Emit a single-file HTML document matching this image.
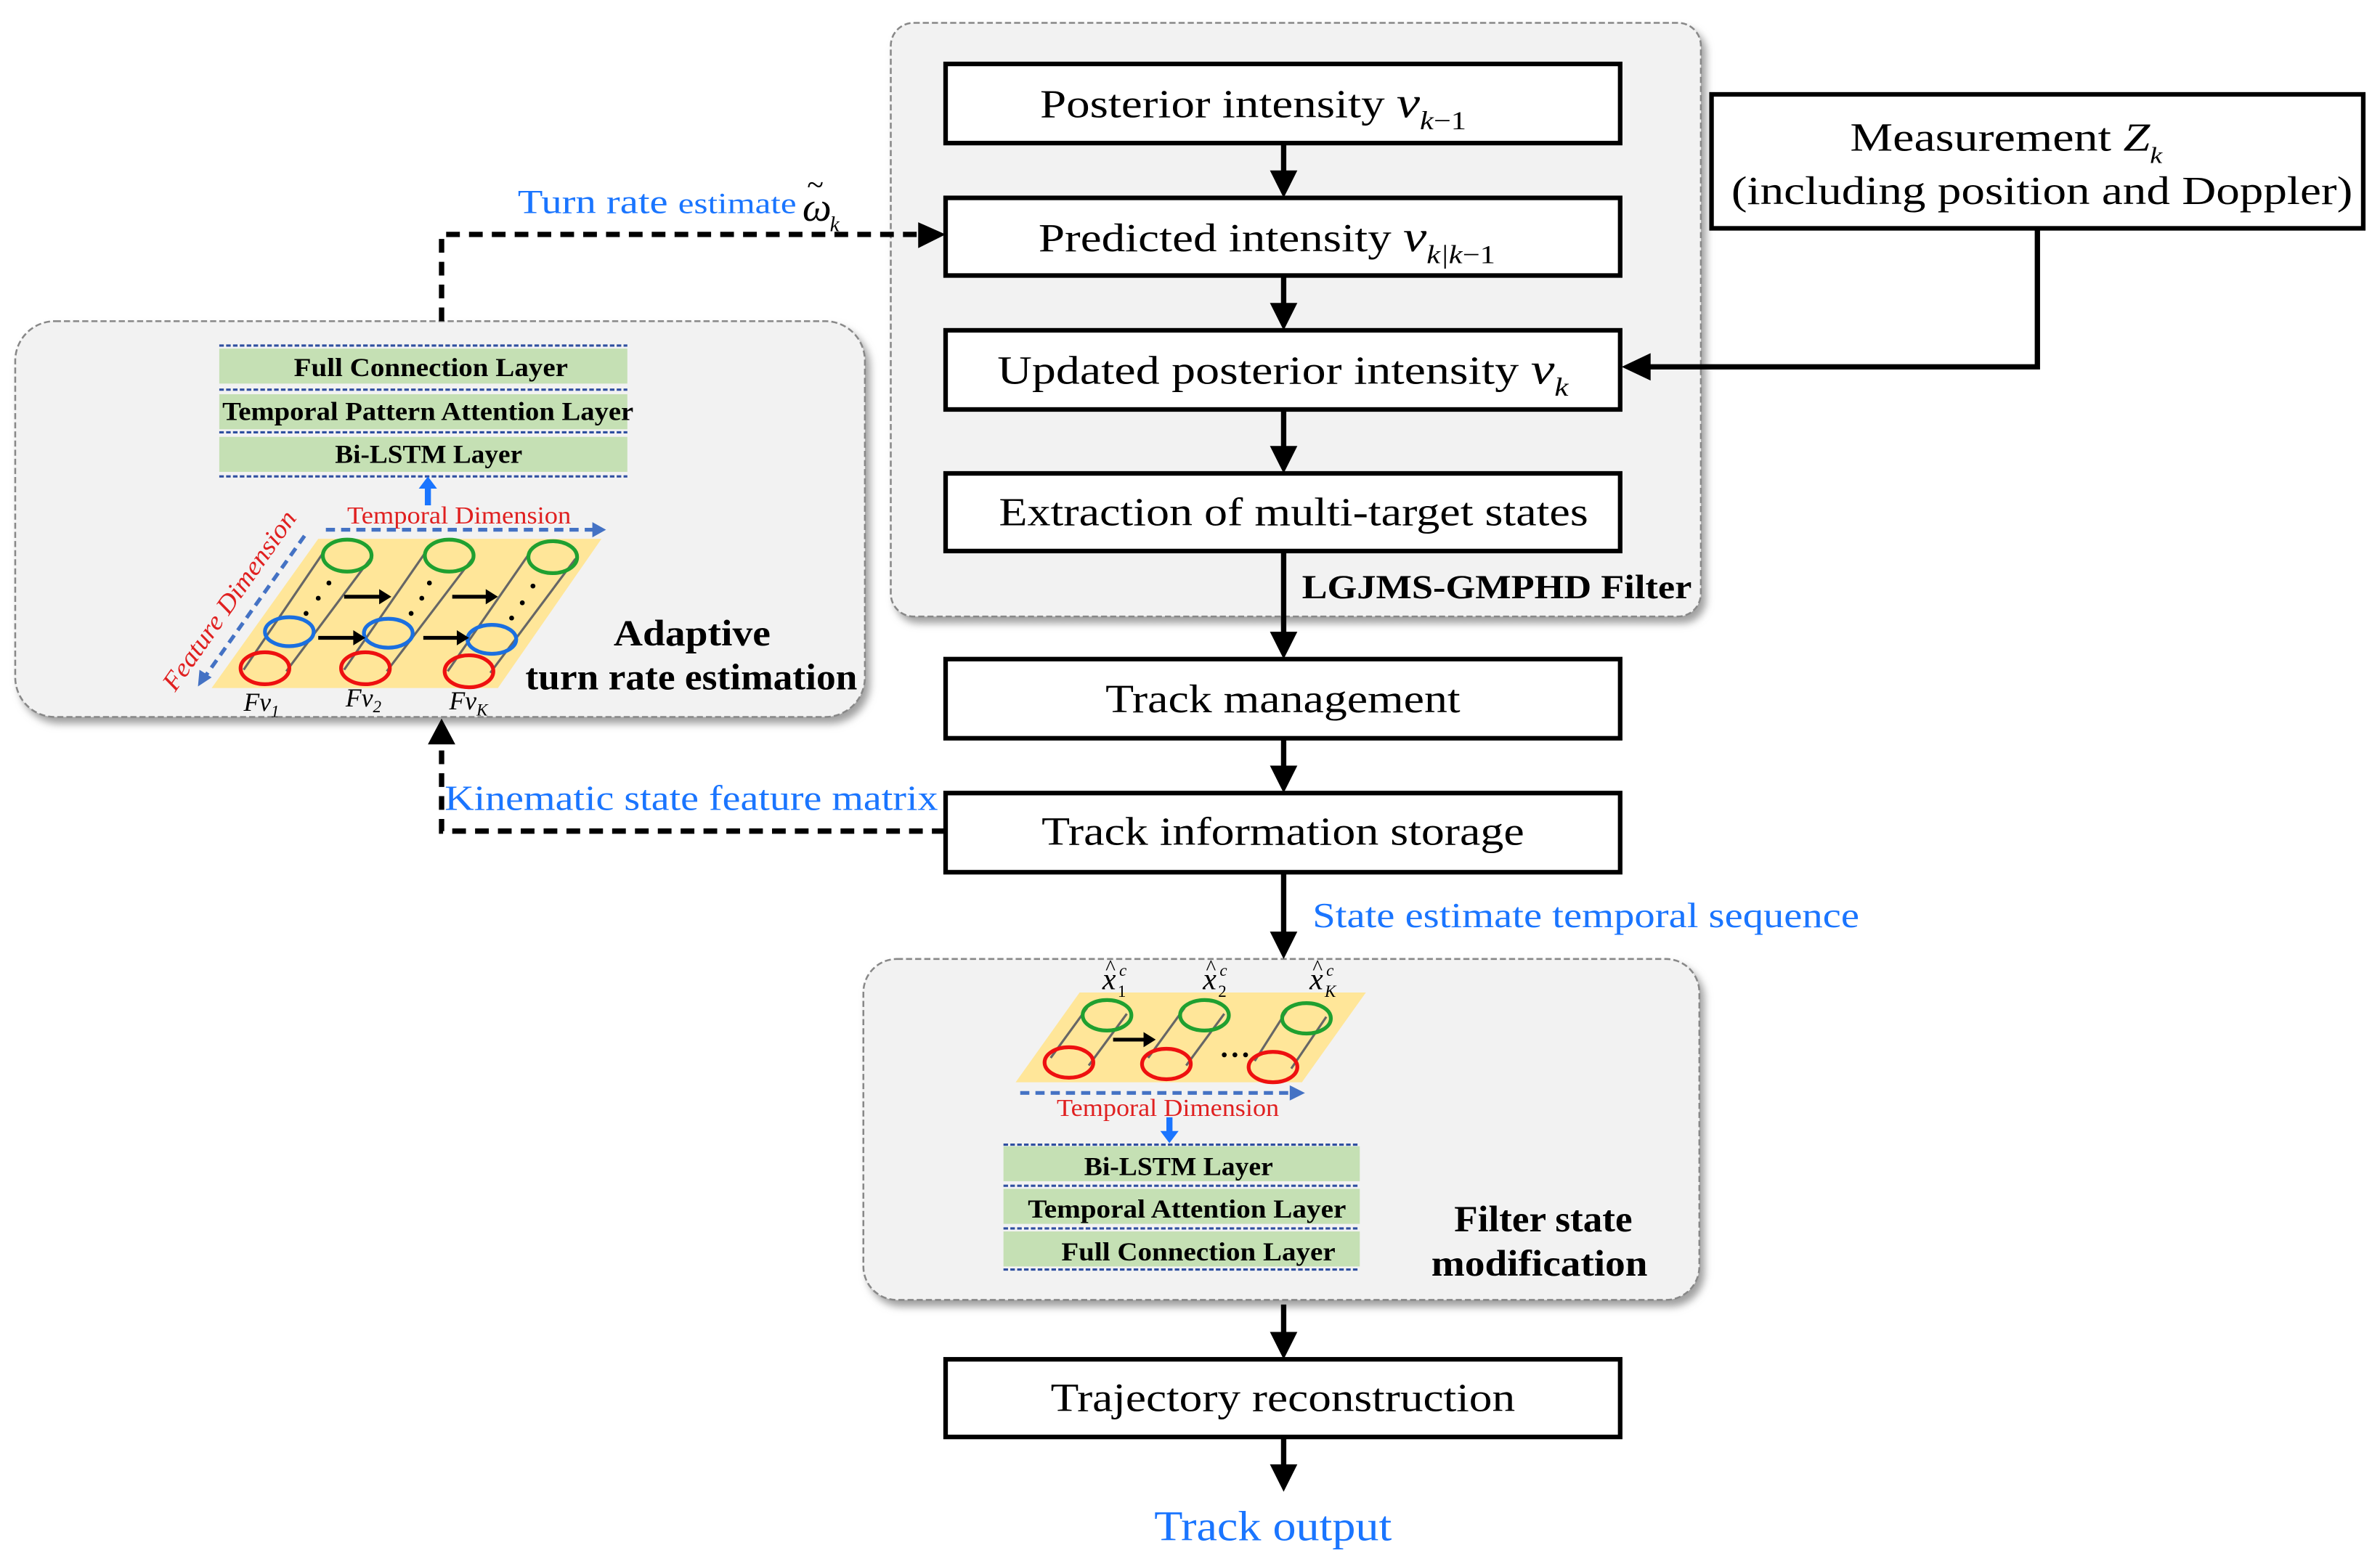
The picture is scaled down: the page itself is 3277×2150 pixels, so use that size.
<!DOCTYPE html>
<html><head><meta charset="utf-8"><style>
html,body{margin:0;padding:0;background:#fff;}
svg{display:block;}
text{font-family:"Liberation Serif",serif;}
</style></head><body>
<svg width="3277" height="2150" viewBox="0 0 1563 1025.5" preserveAspectRatio="none" xmlns="http://www.w3.org/2000/svg">
<defs>
<filter id="sh" x="-5%" y="-5%" width="112%" height="115%">
<feDropShadow dx="3" dy="4" stdDeviation="2.5" flood-color="#777" flood-opacity="0.7"/>
</filter>
</defs>
<rect width="1563" height="1025.5" fill="#fff"/>

<rect x="585" y="15" width="532" height="390" rx="15" fill="#f2f2f2" stroke="#888" stroke-width="1.2" stroke-dasharray="4,2" filter="url(#sh)"/>
<rect x="10" y="211" width="558" height="260" rx="26" fill="#f2f2f2" stroke="#888" stroke-width="1.2" stroke-dasharray="4,2" filter="url(#sh)"/>
<rect x="567" y="630" width="549" height="224" rx="22" fill="#f2f2f2" stroke="#888" stroke-width="1.2" stroke-dasharray="4,2" filter="url(#sh)"/>

<g fill="#fff" stroke="#000" stroke-width="3">
<rect x="621" y="42" width="443" height="52"/>
<rect x="621" y="130" width="443" height="51"/>
<rect x="621" y="217" width="443" height="52"/>
<rect x="621" y="311" width="443" height="51"/>
<rect x="621" y="433" width="443" height="52"/>
<rect x="621" y="521" width="443" height="52"/>
<rect x="621" y="893" width="443" height="51"/>
<rect x="1124" y="62" width="428" height="88"/>
</g>

<g stroke="#000" stroke-width="3.5">
<line x1="843" y1="94" x2="843" y2="114"/>
<line x1="843" y1="181" x2="843" y2="201"/>
<line x1="843" y1="269" x2="843" y2="295"/>
<line x1="843" y1="362" x2="843" y2="417"/>
<line x1="843" y1="485" x2="843" y2="505"/>
<line x1="843" y1="573" x2="843" y2="614"/>
<line x1="843" y1="857" x2="843" y2="877"/>
<line x1="843" y1="944" x2="843" y2="964"/>
<polyline points="1338,150 1338,241 1082,241" fill="none"/>
</g>
<g fill="#000">
<polygon points="834,112 852,112 843,130"/>
<polygon points="834,199 852,199 843,217"/>
<polygon points="834,293 852,293 843,311"/>
<polygon points="834,415 852,415 843,433"/>
<polygon points="834,503 852,503 843,521"/>
<polygon points="834,612 852,612 843,630"/>
<polygon points="834,875 852,875 843,893"/>
<polygon points="834,962 852,962 843,980"/>
<polygon points="1084,232 1084,250 1065,241"/>
<polygon points="603,146 603,163 621,154"/>
<polygon points="281,489 299,489 290,472"/>
</g>

<g stroke="#000" stroke-width="3.5" fill="none" stroke-dasharray="9,6">
<polyline points="290,211 290,154 603,154"/>
<polyline points="621,546 290,546 290,489"/>
</g>

<g font-size="26" fill="#000" lengthAdjust="spacingAndGlyphs">
<text x="683" y="77" textLength="280" lengthAdjust="spacingAndGlyphs">Posterior intensity <tspan font-style="italic" font-size="29">v</tspan><tspan font-style="italic" font-size="17" dy="8">k</tspan><tspan font-size="17">−1</tspan></text>
<text x="682" y="165" textLength="300" lengthAdjust="spacingAndGlyphs">Predicted intensity <tspan font-style="italic" font-size="29">v</tspan><tspan font-style="italic" font-size="17" dy="8">k|k</tspan><tspan font-size="17">−1</tspan></text>
<text x="655" y="252" textLength="375" lengthAdjust="spacingAndGlyphs">Updated posterior intensity <tspan font-style="italic" font-size="29">v</tspan><tspan font-style="italic" font-size="17" dy="8">k</tspan></text>
<text x="656" y="345" textLength="387" lengthAdjust="spacingAndGlyphs">Extraction of multi-target states</text>
<text x="726" y="468" textLength="233" lengthAdjust="spacingAndGlyphs">Track management</text>
<text x="684" y="555" textLength="317" lengthAdjust="spacingAndGlyphs">Track information storage</text>
<text x="690" y="927" textLength="305" lengthAdjust="spacingAndGlyphs">Trajectory reconstruction</text>
<text x="1215" y="99" textLength="205" lengthAdjust="spacingAndGlyphs">Measurement <tspan font-style="italic">Z</tspan><tspan font-style="italic" font-size="15" dy="8">k</tspan></text>
<text x="1137" y="134" textLength="408" lengthAdjust="spacingAndGlyphs">(including position and Doppler)</text>
</g>
<text x="855" y="393" font-size="22" font-weight="bold" textLength="256" lengthAdjust="spacingAndGlyphs">LGJMS-GMPHD Filter</text>

<g fill="#1a75ff">
<text x="340" y="140" font-size="22" textLength="183" lengthAdjust="spacingAndGlyphs">Turn rate <tspan font-size="19">estimate</tspan></text>
<text x="292" y="532" font-size="23" textLength="324" lengthAdjust="spacingAndGlyphs">Kinematic state feature matrix</text>
<text x="862" y="609" font-size="23" textLength="359" lengthAdjust="spacingAndGlyphs">State estimate temporal sequence</text>
<text x="758" y="1012" font-size="28" textLength="156" lengthAdjust="spacingAndGlyphs">Track output</text>
</g>
<text x="527" y="145" font-size="27" font-style="italic">ω</text>
<text x="530" y="128" font-size="20">~</text>
<text x="545" y="152" font-size="14" font-style="italic">k</text>

<!-- left network -->
<g>
<rect x="144" y="229" width="268" height="23" fill="#c5e0b4"/>
<rect x="144" y="259" width="268" height="23" fill="#c5e0b4"/>
<rect x="144" y="287" width="268" height="23" fill="#c5e0b4"/>
<g stroke="#2f4fa0" stroke-width="1.5" stroke-dasharray="3,1.5">
<line x1="144" y1="227" x2="412" y2="227"/>
<line x1="144" y1="256" x2="412" y2="256"/>
<line x1="144" y1="284" x2="412" y2="284"/>
<line x1="144" y1="313" x2="412" y2="313"/>
</g>
<g font-size="17" font-weight="bold">
<text x="193" y="247" textLength="180" lengthAdjust="spacingAndGlyphs">Full Connection Layer</text>
<text x="146" y="276" textLength="270" lengthAdjust="spacingAndGlyphs">Temporal Pattern Attention Layer</text>
<text x="220" y="304" textLength="123" lengthAdjust="spacingAndGlyphs">Bi-LSTM Layer</text>
</g>
<line x1="281" y1="332" x2="281" y2="320" stroke="#1a75ff" stroke-width="4"/>
<polygon points="275,321 287,321 281,313" fill="#1a75ff"/>
<polygon points="139,452 327,452 395,354 209,354" fill="#ffe699"/>
<text x="228" y="344" font-size="16" fill="#e02020" textLength="147" lengthAdjust="spacingAndGlyphs">Temporal Dimension</text>
<line x1="214" y1="348" x2="390" y2="348" stroke="#4472c4" stroke-width="2.5" stroke-dasharray="6,4"/>
<polygon points="389,343 389,353 398,348" fill="#4472c4"/>
<line x1="200" y1="352" x2="135" y2="444" stroke="#4472c4" stroke-width="2.5" stroke-dasharray="6,4"/>
<polygon points="130,451 131,440 139,445" fill="#4472c4"/>
<text x="0" y="0" font-size="17" fill="#e02020" font-style="italic" textLength="140" lengthAdjust="spacingAndGlyphs" transform="translate(115,455) rotate(-55)">Feature Dimension</text>
<g stroke="#666" stroke-width="1.5">
<line x1="160" y1="440" x2="213" y2="362"/><line x1="188" y1="441" x2="244" y2="366"/>
<line x1="226" y1="440" x2="280" y2="362"/><line x1="254" y1="441" x2="311" y2="366"/>
<line x1="294" y1="441" x2="348" y2="363"/><line x1="322" y1="442" x2="378" y2="367"/>
</g>
<g fill="none" stroke-width="2.5">
<ellipse cx="228" cy="365" rx="16" ry="10.5" stroke="#1fa030"/>
<ellipse cx="295" cy="365" rx="16" ry="10.5" stroke="#1fa030"/>
<ellipse cx="363" cy="366" rx="16" ry="10.5" stroke="#1fa030"/>
<ellipse cx="190" cy="415" rx="16" ry="9.5" stroke="#1a6fe0"/>
<ellipse cx="255" cy="416" rx="16" ry="9.5" stroke="#1a6fe0"/>
<ellipse cx="323" cy="420" rx="16" ry="9.5" stroke="#1a6fe0"/>
<ellipse cx="174" cy="439" rx="16" ry="10.5" stroke="#ee1010"/>
<ellipse cx="240" cy="439" rx="16" ry="10.5" stroke="#ee1010"/>
<ellipse cx="308" cy="441" rx="16" ry="10.5" stroke="#ee1010"/>
</g>
<g stroke="#000" stroke-width="2.5">
<line x1="226" y1="392" x2="250" y2="392"/><line x1="297" y1="392" x2="320" y2="392"/>
<line x1="209" y1="419" x2="233" y2="419"/><line x1="278" y1="419" x2="301" y2="419"/>
</g>
<g fill="#000">
<polygon points="249,387 249,397 257,392"/><polygon points="319,387 319,397 327,392"/>
<polygon points="232,414 232,424 240,419"/><polygon points="300,414 300,424 308,419"/>
<circle cx="216" cy="383" r="1.6"/><circle cx="209" cy="393" r="1.6"/><circle cx="201" cy="403" r="1.6"/>
<circle cx="282" cy="383" r="1.6"/><circle cx="277" cy="393" r="1.6"/><circle cx="270" cy="403" r="1.6"/>
<circle cx="350" cy="385" r="1.6"/><circle cx="343" cy="396" r="1.6"/><circle cx="336" cy="406" r="1.6"/>
</g>
<g font-size="17" font-style="italic">
<text x="160" y="467">Fv<tspan font-size="11" dy="4">1</tspan></text>
<text x="227" y="464">Fv<tspan font-size="11" dy="4">2</tspan></text>
<text x="295" y="466">Fv<tspan font-size="11" dy="4">K</tspan></text>
</g>
<g font-size="24" font-weight="bold">
<text x="403" y="424" textLength="103" lengthAdjust="spacingAndGlyphs">Adaptive</text>
<text x="345" y="453" textLength="218" lengthAdjust="spacingAndGlyphs">turn rate estimation</text>
</g>
</g>

<!-- bottom network -->
<g>
<polygon points="667,711 855,711 897,652 709,652" fill="#ffe699"/>
<g stroke="#666" stroke-width="1.5">
<line x1="690" y1="695" x2="714" y2="662"/><line x1="715" y1="700" x2="740" y2="666"/>
<line x1="754" y1="695" x2="778" y2="662"/><line x1="779" y1="700" x2="804" y2="666"/>
<line x1="824" y1="697" x2="845" y2="664"/><line x1="848" y1="702" x2="871" y2="668"/>
</g>
<g fill="none" stroke-width="2.5">
<ellipse cx="727" cy="667" rx="16" ry="10" stroke="#1fa030"/>
<ellipse cx="791" cy="667" rx="16" ry="10" stroke="#1fa030"/>
<ellipse cx="858" cy="669" rx="16" ry="10" stroke="#1fa030"/>
<ellipse cx="702" cy="698" rx="16" ry="10" stroke="#ee1010"/>
<ellipse cx="766" cy="699" rx="16" ry="10" stroke="#ee1010"/>
<ellipse cx="836" cy="701" rx="16" ry="10" stroke="#ee1010"/>
</g>
<line x1="731" y1="683" x2="752" y2="683" stroke="#000" stroke-width="2.5"/>
<polygon points="751,678 751,688 759,683" fill="#000"/>
<g fill="#000"><circle cx="804" cy="693" r="1.6"/><circle cx="811" cy="693" r="1.6"/><circle cx="818" cy="693" r="1.6"/></g>
<g font-size="20" font-style="italic">
<text x="724" y="650">x</text><text x="726" y="640" font-size="14" font-style="normal">^</text><text x="735" y="641" font-size="11">c</text><text x="734" y="655" font-size="11" font-style="normal">1</text>
<text x="790" y="650">x</text><text x="792" y="640" font-size="14" font-style="normal">^</text><text x="801" y="641" font-size="11">c</text><text x="800" y="655" font-size="11" font-style="normal">2</text>
<text x="860" y="650">x</text><text x="862" y="640" font-size="14" font-style="normal">^</text><text x="871" y="641" font-size="11">c</text><text x="870" y="655" font-size="11">K</text>
</g>
<line x1="670" y1="718" x2="848" y2="718" stroke="#4472c4" stroke-width="2.5" stroke-dasharray="6,4"/>
<polygon points="847,713 847,723 857,718" fill="#4472c4"/>
<text x="694" y="733" font-size="16" fill="#e02020" textLength="146" lengthAdjust="spacingAndGlyphs">Temporal Dimension</text>
<line x1="768" y1="734" x2="768" y2="744" stroke="#1a75ff" stroke-width="4"/>
<polygon points="762,743 774,743 768,751" fill="#1a75ff"/>
<rect x="659" y="753" width="234" height="23" fill="#c5e0b4"/>
<rect x="659" y="781" width="234" height="23" fill="#c5e0b4"/>
<rect x="659" y="809" width="234" height="23" fill="#c5e0b4"/>
<g stroke="#2f4fa0" stroke-width="1.5" stroke-dasharray="3,1.5">
<line x1="659" y1="752" x2="893" y2="752"/>
<line x1="659" y1="779" x2="893" y2="779"/>
<line x1="659" y1="807" x2="893" y2="807"/>
<line x1="659" y1="834" x2="893" y2="834"/>
</g>
<g font-size="17" font-weight="bold">
<text x="712" y="772" textLength="124" lengthAdjust="spacingAndGlyphs">Bi-LSTM Layer</text>
<text x="675" y="800" textLength="209" lengthAdjust="spacingAndGlyphs">Temporal Attention Layer</text>
<text x="697" y="828" textLength="180" lengthAdjust="spacingAndGlyphs">Full Connection Layer</text>
</g>
<g font-size="24" font-weight="bold">
<text x="955" y="809" textLength="117" lengthAdjust="spacingAndGlyphs">Filter state</text>
<text x="940" y="838" textLength="142" lengthAdjust="spacingAndGlyphs">modification</text>
</g>
</g>
</svg>
</body></html>
